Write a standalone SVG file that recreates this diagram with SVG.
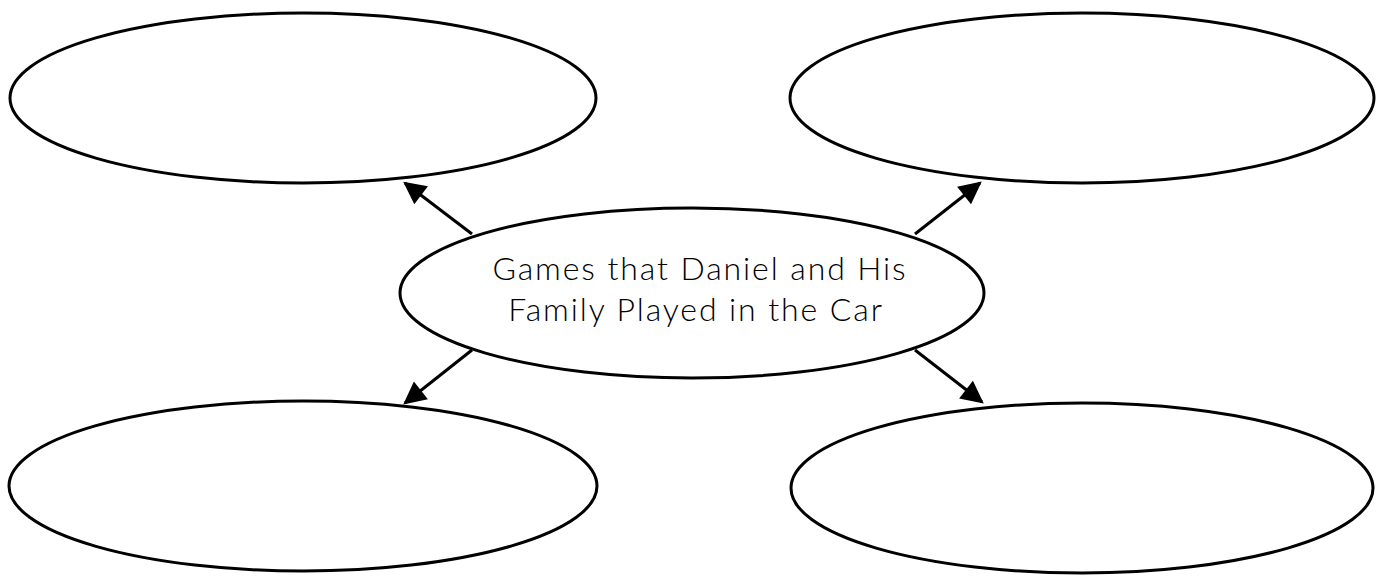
<svg xmlns="http://www.w3.org/2000/svg" width="1379" height="576" viewBox="0 0 1379 576">
<style>
.node ellipse{fill:#fff;stroke:#000;stroke-width:3}
.conn line{stroke:#000;stroke-width:3}
.label{font-family:"Lato","DejaVu Sans",sans-serif;font-weight:300;font-size:32px;letter-spacing:1.9px;fill:#000;text-anchor:middle}
</style>
<defs>
<marker id="ah" viewBox="0 0 10 10" refX="9" refY="5" markerWidth="9" markerHeight="7.5" markerUnits="strokeWidth" orient="auto">
<path d="M0,0 L10,5 L0,10 Z" fill="#000"/>
</marker>
</defs>
<rect width="1379" height="576" fill="#fff"/>
<g id="node-tl" class="node"><ellipse cx="303" cy="98" rx="293" ry="85"/></g>
<g id="node-tr" class="node"><ellipse cx="1082" cy="98" rx="292" ry="85"/></g>
<g id="node-bl" class="node"><ellipse cx="303" cy="486" rx="294" ry="85"/></g>
<g id="node-br" class="node"><ellipse cx="1082" cy="488" rx="291" ry="85"/></g>
<g id="node-center" class="node"><ellipse cx="692" cy="293" rx="292" ry="85"/>
<text class="label" x="700" y="280">Games that Daniel and His</text>
<text class="label" x="696" y="321">Family Played in the Car</text>
</g>
<g id="connectors" class="conn">
<line x1="472" y1="234" x2="405" y2="183" marker-end="url(#ah)"/>
<line x1="915" y1="234" x2="980" y2="183" marker-end="url(#ah)"/>
<line x1="472" y1="350" x2="405" y2="403" marker-end="url(#ah)"/>
<line x1="915" y1="350" x2="982" y2="402" marker-end="url(#ah)"/>
</g>
</svg>
